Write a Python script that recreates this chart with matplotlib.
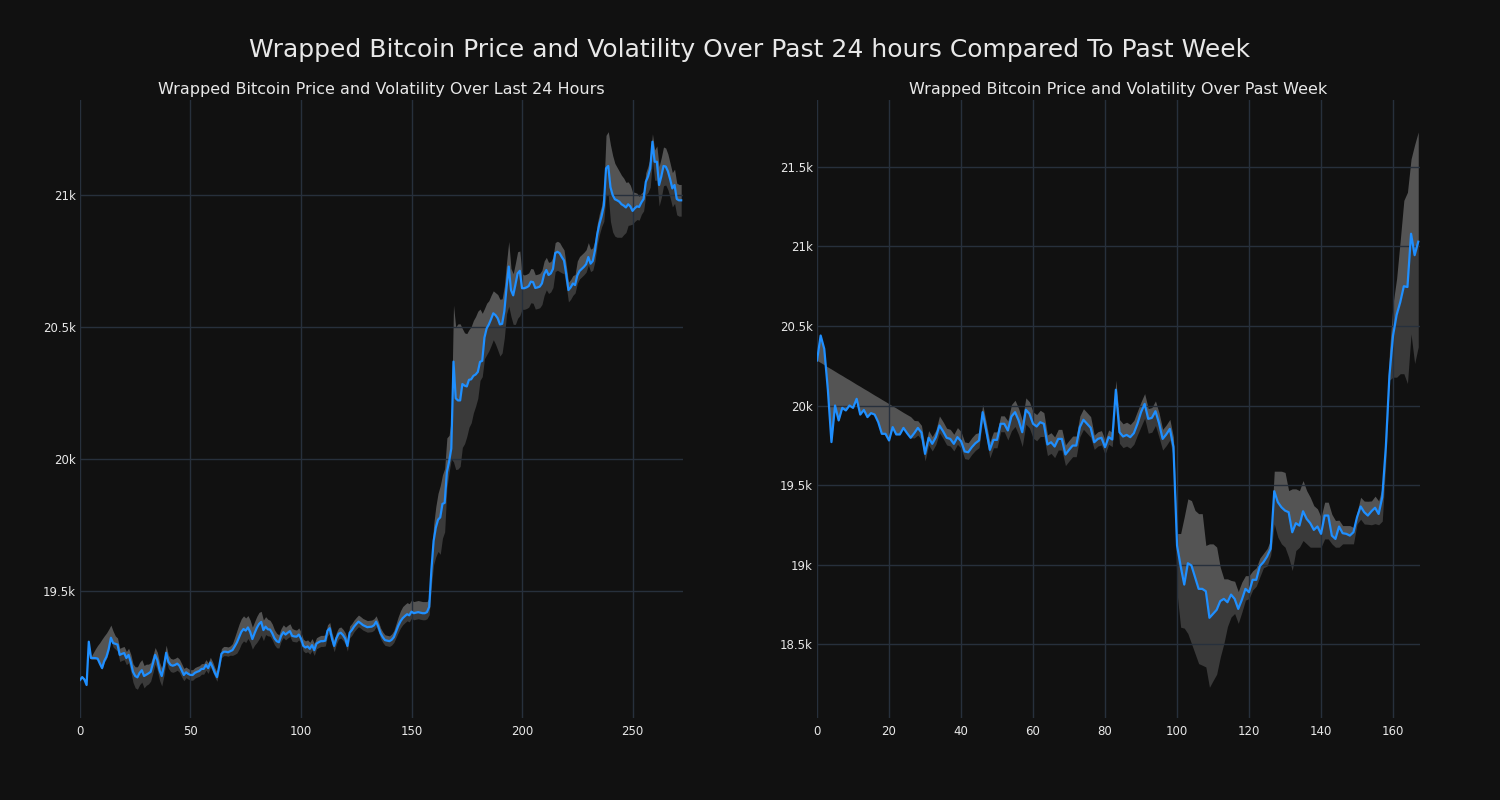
import matplotlib
matplotlib.use('Agg')
import matplotlib.pyplot as plt
from matplotlib.ticker import FuncFormatter, MultipleLocator
import numpy as np

# ---------------- data ----------------
# Last 24 hours (5-minute steps)
price_24h = [
    19163, 19174, 19165, 19144, 19308, 19246, 19246, 19246, 19244, 19225,
    19208, 19235, 19251, 19280, 19323, 19303, 19300, 19297, 19258, 19262,
    19265, 19246, 19258, 19230, 19194, 19178, 19173, 19190, 19200, 19178,
    19183, 19188, 19194, 19225, 19258, 19238, 19200, 19178, 19215, 19266,
    19232, 19220, 19217, 19220, 19225, 19217, 19200, 19182, 19192, 19186,
    19182, 19182, 19190, 19194, 19197, 19205, 19205, 19220, 19208, 19229,
    19212, 19190, 19174, 19215, 19262, 19270, 19270, 19268, 19272, 19276,
    19290, 19305, 19325, 19345, 19356, 19350, 19362, 19345, 19318, 19340,
    19360, 19375, 19383, 19352, 19365, 19355, 19354, 19340, 19321, 19310,
    19306, 19330, 19344, 19335, 19342, 19348, 19330, 19328, 19327, 19335,
    19320, 19293, 19286, 19290, 19281, 19295, 19276, 19301, 19306, 19310,
    19310, 19312, 19350, 19359, 19320, 19292, 19321, 19338, 19342, 19333,
    19320, 19292, 19342, 19352, 19365, 19375, 19384, 19378, 19371, 19367,
    19363, 19364, 19365, 19370, 19384, 19365, 19340, 19325, 19314, 19312,
    19310, 19315, 19325, 19346, 19368, 19385, 19397, 19405, 19412, 19408,
    19422, 19416, 19418, 19420, 19418, 19416, 19416, 19420, 19440, 19580,
    19690, 19740, 19770, 19779, 19830, 19834, 19950, 19990, 20040, 20369,
    20230, 20222, 20222, 20284, 20278, 20275, 20300, 20302, 20315, 20320,
    20330, 20368, 20372, 20460, 20495, 20510, 20530, 20552, 20545, 20533,
    20510, 20512, 20560, 20650, 20729, 20640, 20620, 20660, 20703, 20713,
    20647, 20647, 20650, 20655, 20672, 20670, 20648, 20650, 20653, 20665,
    20700, 20716, 20697, 20703, 20720, 20780, 20785, 20780, 20765, 20752,
    20700, 20640, 20650, 20665, 20659, 20695, 20712, 20720, 20728, 20738,
    20765, 20740, 20750, 20790, 20850, 20890, 20920, 20960, 21101, 21110,
    21030, 21000, 20984, 20980, 20975, 20965, 20960, 20953, 20965, 20957,
    20940, 20950, 20957, 20955, 20972, 20985, 21050, 21070, 21100, 21202,
    21126, 21126, 21038, 21070, 21110, 21108, 21090, 21060, 21025, 21038,
    20985, 20980, 20980,
]
vol_up_24h = [
    5, 5, 5, 5, 0, 5, 20, 35, 50, 80,
    110, 95, 90, 75, 48, 45, 30, 25, 25, 25,
    25, 25, 25, 30, 30, 35, 40, 40, 40, 40,
    40, 35, 35, 30, 28, 30, 30, 30, 30, 29,
    25, 25, 25, 25, 25, 25, 25, 25, 20, 20,
    20, 20, 20, 20, 20, 20, 20, 20, 20, 20,
    20, 20, 18, 20, 20, 20, 20, 20, 20, 25,
    35, 45, 50, 50, 50, 48, 45, 45, 45, 44,
    44, 44, 40, 38, 38, 38, 35, 35, 32, 30,
    28, 28, 28, 28, 28, 28, 28, 26, 25, 25,
    25, 25, 25, 25, 25, 25, 25, 22, 22, 22,
    22, 22, 22, 22, 22, 22, 22, 22, 22, 22,
    22, 25, 25, 25, 25, 25, 25, 25, 25, 25,
    25, 25, 25, 25, 22, 20, 20, 20, 20, 20,
    20, 22, 25, 30, 35, 40, 44, 44, 44, 44,
    44, 44, 44, 44, 44, 44, 44, 40, 35, 40,
    60, 80, 100, 120, 110, 130, 130, 100, 110, 214,
    270, 290, 290, 210, 200, 200, 190, 200, 210, 220,
    230, 200, 180, 110, 95, 90, 90, 85, 85, 90,
    95, 95, 95, 95, 95, 82, 82, 82, 82, 75,
    55, 50, 50, 50, 50, 50, 50, 50, 50, 50,
    50, 48, 48, 45, 45, 40, 40, 40, 40, 40,
    35, 30, 30, 30, 40, 55, 55, 55, 55, 55,
    55, 55, 50, 40, 40, 40, 40, 60, 125, 130,
    160, 150, 136, 125, 115, 110, 104, 95, 85, 80,
    72, 60, 50, 40, 35, 30, 35, 40, 40, 30,
    45, 60, 70, 72, 72, 70, 65, 60, 60, 60,
    60, 60, 60,
]
vol_dn_24h = [
    5, 5, 5, 5, 5, 5, 5, 5, 5, 5,
    5, 5, 8, 10, 10, 15, 20, 25, 25, 25,
    25, 25, 30, 35, 40, 45, 45, 45, 45, 45,
    40, 40, 35, 35, 35, 38, 38, 38, 35, 30,
    25, 25, 25, 25, 25, 25, 25, 22, 20, 20,
    20, 20, 20, 20, 20, 20, 20, 20, 20, 18,
    16, 16, 16, 15, 15, 15, 15, 15, 15, 20,
    30, 40, 45, 45, 45, 45, 42, 40, 38, 45,
    55, 57, 50, 40, 30, 25, 25, 25, 25, 25,
    22, 20, 20, 20, 20, 20, 20, 20, 20, 20,
    20, 20, 20, 20, 20, 20, 20, 20, 20, 20,
    20, 20, 20, 20, 20, 22, 22, 20, 20, 20,
    20, 20, 20, 20, 19, 19, 19, 19, 19, 19,
    19, 19, 19, 19, 19, 20, 20, 20, 20, 20,
    20, 20, 20, 22, 25, 25, 25, 25, 25, 25,
    25, 25, 25, 25, 25, 25, 25, 25, 30, 60,
    90, 110, 120, 140, 130, 110, 60, 40, 40, 380,
    270, 260, 250, 240, 220, 190, 180, 165, 140, 120,
    100, 70, 60, 80, 100, 100, 100, 100, 110, 120,
    120, 110, 100, 100, 150, 100, 110, 150, 170, 170,
    80, 80, 80, 80, 80, 80, 80, 80, 80, 80,
    80, 75, 70, 70, 70, 70, 70, 70, 60, 50,
    45, 45, 45, 45, 30, 30, 30, 30, 30, 30,
    30, 30, 35, 40, 40, 40, 40, 60, 100, 110,
    130, 140, 140, 140, 135, 125, 110, 95, 80, 70,
    50, 50, 50, 50, 45, 45, 50, 60, 70, 70,
    70, 70, 80, 80, 75, 70, 70, 70, 70, 70,
    60, 60, 60,
]

# Past week (hourly steps)
price_week = [
    20283, 20440, 20356, 20100, 19770, 20000, 19906, 19985, 19969, 20000,
    19985, 20042, 19943, 19972, 19927, 19952, 19943, 19895, 19822, 19822,
    19780, 19864, 19818, 19818, 19859, 19826, 19797, 19826, 19859, 19830,
    19696, 19797, 19759, 19800, 19874, 19838, 19797, 19790, 19759, 19801,
    19776, 19711, 19706, 19738, 19763, 19780, 19958, 19843, 19721, 19784,
    19784, 19885, 19885, 19843, 19931, 19958, 19906, 19832, 19973, 19948,
    19885, 19868, 19895, 19885, 19755, 19769, 19742, 19790, 19790, 19692,
    19721, 19748, 19748, 19864, 19910, 19885, 19860, 19769, 19790, 19797,
    19738, 19801, 19786, 20099, 19832, 19805, 19815, 19801, 19826, 19885,
    19958, 20010, 19916, 19922, 19964, 19889, 19790, 19818, 19853, 19740,
    19120, 18990, 18874, 19008, 18994, 18920, 18847, 18847, 18832, 18665,
    18690, 18715, 18770, 18784, 18763, 18811, 18784, 18721, 18778, 18847,
    18826, 18904, 18904, 18990, 19015, 19050, 19099, 19461, 19392, 19360,
    19339, 19329, 19203, 19260, 19245, 19335, 19287, 19260, 19218, 19239,
    19193, 19308, 19308, 19182, 19161, 19239, 19197, 19193, 19182, 19203,
    19298, 19365, 19329, 19308, 19335, 19357, 19318, 19423, 19740, 20190,
    20440, 20570, 20650, 20750, 20745, 21080, 20945, 21030,
]
vol_up_week = [
    0, -170, -100, 142, 459, 215, 295, 203, 205, 161,
    162, 91, 177, 134, 166, 127, 122, 157, 216, 203,
    231, 133, 166, 152, 97, 117, 133, 80, 45, 45,
    45, 45, 45, 45, 60, 60, 60, 60, 60, 60,
    60, 60, 60, 60, 60, 50, 50, 50, 50, 50,
    50, 50, 50, 60, 75, 75, 75, 75, 75, 75,
    75, 75, 75, 70, 60, 60, 60, 60, 60, 60,
    60, 60, 60, 70, 70, 70, 70, 45, 45, 45,
    45, 45, 45, 60, 80, 80, 80, 80, 80, 80,
    65, 65, 65, 65, 65, 65, 60, 60, 60, 60,
    75, 205, 426, 405, 408, 420, 473, 473, 288, 465,
    440, 395, 213, 126, 147, 89, 111, 109, 112, 83,
    104, 56, 76, 50, 55, 50, 55, 126, 195, 227,
    240, 136, 273, 216, 220, 193, 178, 163, 152, 111,
    105, 84, 84, 134, 116, 40, 48, 52, 63, 30,
    31, 58, 70, 90, 65, 73, 82, 62, 60, 150,
    200, 230, 390, 540, 596, 470, 695, 690,
]
vol_dn_week = [
    0, 0, 0, 0, 0, 0, 0, 0, 0, 0,
    0, 0, 0, 0, 0, 0, 0, 0, 0, 0,
    0, 0, 0, 0, 0, 0, 0, 30, 45, 45,
    45, 45, 45, 45, 45, 45, 45, 45, 45, 45,
    45, 45, 45, 45, 45, 45, 50, 50, 50, 50,
    50, 50, 50, 60, 90, 90, 90, 90, 90, 90,
    90, 90, 90, 80, 70, 70, 70, 70, 70, 70,
    70, 70, 70, 60, 60, 60, 60, 45, 45, 45,
    45, 45, 45, 60, 70, 70, 70, 70, 70, 70,
    90, 90, 90, 90, 90, 90, 70, 70, 70, 70,
    300, 384, 274, 442, 491, 480, 470, 480, 476, 437,
    420, 405, 353, 281, 153, 141, 92, 91, 78, 71,
    40, 64, 40, 67, 35, 60, 40, 206, 220, 230,
    230, 283, 241, 172, 136, 184, 157, 151, 109, 130,
    84, 147, 147, 52, 52, 130, 67, 63, 52, 73,
    43, 80, 74, 55, 85, 100, 68, 150, 100, 30,
    262, 392, 450, 550, 607, 630, 681, 661,
]

suptitle = "Wrapped Bitcoin Price and Volatility Over Past 24 hours Compared To Past Week"
title_24h = "Wrapped Bitcoin Price and Volatility Over Last 24 Hours"
title_week = "Wrapped Bitcoin Price and Volatility Over Past Week"

# ---------------- style ----------------
BG = '#111111'
LIGHT = '#545454'
DARK = '#3a3a3a'
BLUE = '#1f8fff'
GRID = '#27303c'
TXT = '#e8e8e8'

fig = plt.figure(figsize=(15, 8), dpi=100, facecolor=BG)
ax1 = fig.add_axes([0.0533, 0.1025, 0.402, 0.7725])
ax2 = fig.add_axes([0.5447, 0.1025, 0.402, 0.7725])

kfmt = FuncFormatter(lambda v, pos: f"{v / 1000:g}k")


def draw(ax, price, up, dn, title, xlim, ylim, xstep, ystep):
    x = np.arange(len(price))
    p = np.asarray(price, dtype=float)
    hi = p + np.asarray(up, dtype=float)
    lo = p - np.asarray(dn, dtype=float)
    ax.set_facecolor(BG)
    ax.fill_between(x, p, hi, color=LIGHT, lw=0, zorder=1)
    ax.fill_between(x, lo, p, color=DARK, lw=0, zorder=1)
    ax.plot(x, p, color=BLUE, lw=1.6, zorder=3)
    ax.set_xlim(*xlim)
    ax.set_ylim(*ylim)
    ax.xaxis.set_major_locator(MultipleLocator(xstep))
    ax.yaxis.set_major_locator(MultipleLocator(ystep))
    ax.yaxis.set_major_formatter(kfmt)
    ax.grid(True, color=GRID, lw=1.0)
    for s in ax.spines.values():
        s.set_visible(False)
    ax.tick_params(length=0, labelsize=8.5, labelcolor=TXT)
    ax.tick_params(axis='y', pad=3)
    ax.tick_params(axis='x', pad=5)
    ax.set_title(title, color=TXT, fontsize=11.5, pad=4)


draw(ax1, price_24h, vol_up_24h, vol_dn_24h, title_24h,
     (0, 272.8), (19019, 21360), 50, 500)
draw(ax2, price_week, vol_up_week, vol_dn_week, title_week,
     (0, 167.5), (18035, 21921), 20, 500)

fig.suptitle(suptitle, color=TXT, fontsize=18, y=0.937, va='center')

fig.savefig('out.png', dpi=100, facecolor=BG)
